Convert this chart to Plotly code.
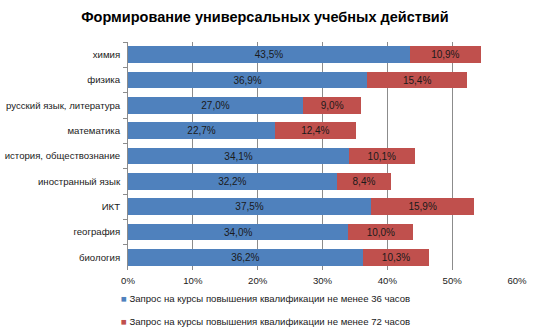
import plotly.graph_objects as go

categories = ["химия", "физика", "русский язык, литература", "математика",
              "история, обществознание", "иностранный язык", "ИКТ", "география", "биология"]
hours36 = [43.5, 36.9, 27.0, 22.7, 34.1, 32.2, 37.5, 34.0, 36.2]
hours72 = [10.9, 15.4, 9.0, 12.4, 10.1, 8.4, 15.9, 10.0, 10.3]
series_names = ["Запрос на курсы повышения квалификации не менее 36 часов",
                "Запрос на курсы повышения квалификации не менее 72 часов"]
colors = ["#4F81BD", "#C0504D"]
tick_vals = [0, 10, 20, 30, 40, 50, 60]
tick_text = ["0%", "10%", "20%", "30%", "40%", "50%", "60%"]

FONT = "Liberation Sans"

fig = go.Figure()
for vals, name, col in zip([hours36, hours72], series_names, colors):
    fig.add_trace(go.Bar(y=categories, x=vals, orientation="h", name=name,
                         marker=dict(color=col, line=dict(width=0)),
                         texttemplate="%{x:.1f}%", textposition="inside",
                         insidetextanchor="middle", constraintext="none",
                         textfont=dict(family=FONT, size=10, color="#1a1a1a"),
                         showlegend=False))

# legend drawn as text annotations
for i, (name, col) in enumerate(zip(series_names, colors)):
    fig.add_annotation(xref="paper", yref="paper", x=-0.023, y=-0.127 - i * 0.097,
                       xanchor="left", yanchor="middle", showarrow=False,
                       text=f"<span style='color:{col}'>■</span> {name}",
                       font=dict(family=FONT, size=9.6, color="#1a1a1a"))

fig.update_layout(
    width=533, height=333,
    barmode="stack", bargap=0.33,
    separators=", ",
    paper_bgcolor="white", plot_bgcolor="white",
    margin=dict(l=128, r=16, t=42, b=63, autoexpand=False),
    title=dict(text="<b>Формирование универсальных учебных действий</b>",
               x=0.497, xanchor="center", y=0.95, yanchor="middle",
               font=dict(family=FONT, size=14.5, color="black")),
    font=dict(family=FONT, size=10, color="#1a1a1a"),
    showlegend=False,
    xaxis=dict(range=[0, 60], tickvals=tick_vals, ticktext=tick_text,
               showgrid=True, gridcolor="#8c8c8c", gridwidth=1,
               zeroline=False, showline=False, ticks="", fixedrange=True,
               automargin=False, tickfont=dict(size=9.6), ticklabelstandoff=3),
    yaxis=dict(categoryorder="array", categoryarray=categories, autorange="reversed",
               showline=True, linecolor="#8c8c8c", linewidth=1,
               ticks="outside", tickson="boundaries", ticklen=4, tickcolor="#8c8c8c",
               automargin=False, tickfont=dict(size=9.6), ticklabelstandoff=5),
)

fig.write_html("out.html")
